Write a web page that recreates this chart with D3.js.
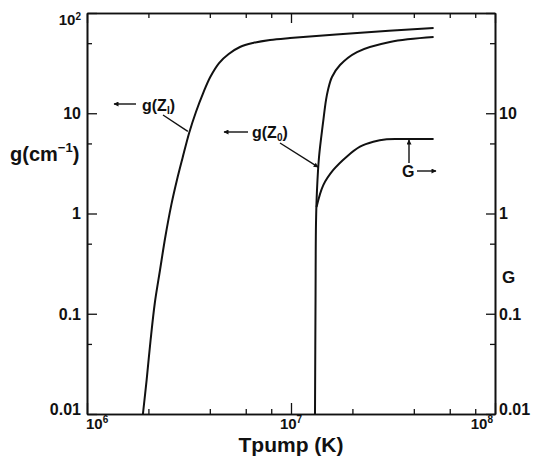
<!DOCTYPE html>
<html>
<head>
<meta charset="utf-8">
<script src="https://cdn.jsdelivr.net/npm/d3@7"></script>
<style>
  body { margin: 0; background: #fff; }
  svg { display: block; }
  text { font-family: "Liberation Sans", Arial, Helvetica, sans-serif; font-weight: bold; fill: #111; }
</style>
</head>
<body>
<svg id="chart" width="533" height="459"></svg>
<script>
// Pump temperature in units of 1e6 K, with gain values for each curve
const tZI = [1.88, 1.96, 2.05, 2.15, 2.28, 2.42, 2.59, 2.76, 2.94, 3.17, 3.42, 3.71, 4.02, 4.44, 4.95, 5.62, 6.51, 7.89, 9.89, 21.1, 50];
const gZI = [0.01, 0.0218, 0.0547, 0.128, 0.273, 0.583, 1.22, 2.16, 3.58, 6.4, 10.3, 15.9, 23.0, 31.7, 39.0, 45.8, 50.2, 53.8, 56.3, 63.2, 70.8];

const tZ0 = [13.11, 13.19, 13.26, 13.41, 13.72, 14.35, 14.85, 15.18, 15.88, 17.39, 21.06, 30.57, 50];
const gZ0 = [0.01, 0.137, 0.804, 1.715, 3.66, 8.0, 13.6, 17.1, 23.0, 30.3, 40.8, 51.4, 57.6];

const tG = [13.34, 14.4, 16.12, 18.75, 21.79, 25.31, 29.45, 34.2, 50];
const gG = [1.16, 1.92, 2.72, 3.69, 4.64, 5.2, 5.5, 5.54, 5.54];

// Axis ticks and labels
const xMajor = [1e6, 1e7, 1e8];
const xMajorExp = ["6", "7", "8"];
const xMinor = [2e6, 4e6, 6e6, 8e6, 2e7, 4e7, 6e7, 8e7];
const yMajor = [0.01, 0.1, 1, 10, 100];
const yLeftLabels = ["0.01", "0.1", "1", "10", "10"];
const yRightLabels = ["0.01", "0.1", "1", "10", ""];
const yMinor = [0.05, 0.5, 5, 50];

const svg = d3.select("#chart");
const m = { left: 87, top: 13, right: 495, bottom: 414 };

const x = d3.scaleLog().domain([1e6, 1e8]).range([m.left, m.right]);
const y = d3.scaleLog().domain([0.01, 100]).range([m.bottom, m.top]);

const ink = "#111";

// Frame and ticks (all ticks point inward)
function drawAxis(gen, tx, ty) {
  const g = svg.append("g").attr("transform", `translate(${tx},${ty})`).call(gen);
  g.select(".domain").attr("stroke", ink).attr("stroke-width", 1.6);
  g.selectAll(".tick line").attr("stroke", ink).attr("stroke-width", 1.3);
  g.selectAll(".tick text").remove();
  return g;
}
const noFmt = () => "";
drawAxis(d3.axisBottom(x).tickValues(xMajor).tickSize(-11).tickSizeOuter(0).tickFormat(noFmt), 0, m.bottom);
drawAxis(d3.axisBottom(x).tickValues(xMinor).tickSize(-5).tickSizeOuter(0).tickFormat(noFmt), 0, m.bottom);
drawAxis(d3.axisTop(x).tickValues(xMajor).tickSize(-10).tickSizeOuter(0).tickFormat(noFmt), 0, m.top);
drawAxis(d3.axisTop(x).tickValues(xMinor).tickSize(-5).tickSizeOuter(0).tickFormat(noFmt), 0, m.top);
drawAxis(d3.axisLeft(y).tickValues(yMajor).tickSize(-10).tickSizeOuter(0).tickFormat(noFmt), m.left, 0);
drawAxis(d3.axisLeft(y).tickValues(yMinor).tickSize(-5).tickSizeOuter(0).tickFormat(noFmt), m.left, 0);
drawAxis(d3.axisRight(y).tickValues(yMajor).tickSize(-9).tickSizeOuter(0).tickFormat(noFmt), m.right, 0);
drawAxis(d3.axisRight(y).tickValues(yMinor).tickSize(-5).tickSizeOuter(0).tickFormat(noFmt), m.right, 0);

// Tick labels
const tickFont = 16;
function yLabelPos(v) { return v === 0.01 ? y(v) - 5 : v === 100 ? y(v) + 7 : y(v); }

yMajor.forEach((v, i) => {
  const t = svg.append("text")
    .attr("x", 81).attr("y", yLabelPos(v)).attr("dy", "0.36em")
    .attr("text-anchor", "end").attr("font-size", tickFont)
    .text(yLeftLabels[i]);
  if (v === 100) {
    t.attr("font-size", 15);
    t.append("tspan").attr("font-size", 10).attr("dy", "-0.55em").text("2");
  }
  if (yRightLabels[i]) {
    svg.append("text")
      .attr("x", 499).attr("y", yLabelPos(v)).attr("dy", "0.36em")
      .attr("text-anchor", "start").attr("font-size", tickFont)
      .text(yRightLabels[i]);
  }
});

const xAnchors = ["start", "middle", "end"];
const xShift = [-1, 0, -2];
xMajor.forEach((v, i) => {
  const t = svg.append("text")
    .attr("x", x(v) + xShift[i]).attr("y", 429)
    .attr("text-anchor", xAnchors[i]).attr("font-size", 15)
    .text("10");
  t.append("tspan").attr("font-size", 10).attr("dy", "-0.6em").text(xMajorExp[i]);
});

// Axis titles
svg.append("text")
  .attr("x", (m.left + m.right) / 2).attr("y", 452)
  .attr("text-anchor", "middle").attr("font-size", 21)
  .text("Tpump (K)");

const gTitle = svg.append("text")
  .attr("x", 10).attr("y", 161).attr("font-size", 20)
  .text("g(cm");
gTitle.append("tspan").attr("font-size", 13).attr("dy", "-0.7em").text("\u22121");
gTitle.append("tspan").attr("font-size", 20).attr("dy", "0.45em").text(")");

svg.append("text")
  .attr("x", 502).attr("y", 277).attr("dy", "0.36em")
  .attr("font-size", 17).text("G");

// Curves
const line = d3.line()
  .x(d => x(d[0] * 1e6))
  .y(d => y(d[1]))
  .curve(d3.curveCatmullRom.alpha(0.5));

[[tZI, gZI], [tZ0, gZ0], [tG, gG]].forEach(([ts, gs]) => {
  svg.append("path")
    .datum(ts.map((t, i) => [t, gs[i]]))
    .attr("fill", "none").attr("stroke", ink)
    .attr("stroke-width", 2).attr("stroke-linejoin", "round")
    .attr("d", line);
});

// Arrowheads
const defs = svg.append("defs");
defs.append("marker")
  .attr("id", "arrow").attr("viewBox", "0 0 10 10")
  .attr("refX", 9).attr("refY", 5)
  .attr("markerWidth", 6).attr("markerHeight", 5)
  .attr("markerUnits", "userSpaceOnUse")
  .attr("orient", "auto")
  .append("path").attr("d", "M0,0 L10,5 L0,10 Z").attr("fill", ink);

function arrow(x1, y1, x2, y2, head = true) {
  const l = svg.append("line")
    .attr("x1", x1).attr("y1", y1).attr("x2", x2).attr("y2", y2)
    .attr("stroke", ink).attr("stroke-width", 1.4);
  if (head) l.attr("marker-end", "url(#arrow)");
}

// g(Z_I) annotation
arrow(136, 104, 114, 104);
const aI = svg.append("text").attr("x", 142).attr("y", 111).attr("font-size", 16).text("g(Z");
aI.append("tspan").attr("font-size", 10).attr("dy", "0.3em").text("I");
aI.append("tspan").attr("font-size", 16).attr("dy", "-0.19em").text(")");
arrow(163, 115, x(3.12e6), y(6.6), false);

// g(Z_0) annotation
arrow(248, 132, 224, 132);
const a0 = svg.append("text").attr("x", 252).attr("y", 138).attr("font-size", 16).text("g(Z");
a0.append("tspan").attr("font-size", 10).attr("dy", "0.3em").text("0");
a0.append("tspan").attr("font-size", 16).attr("dy", "-0.19em").text(")");
arrow(280, 143, x(13.6e6), y(2.9));

// G annotation
arrow(409, 163, 409, y(5.4));
svg.append("text").attr("x", 402).attr("y", 177).attr("font-size", 16).text("G");
arrow(417, 171, 436, 171);
</script>
</body>
</html>
